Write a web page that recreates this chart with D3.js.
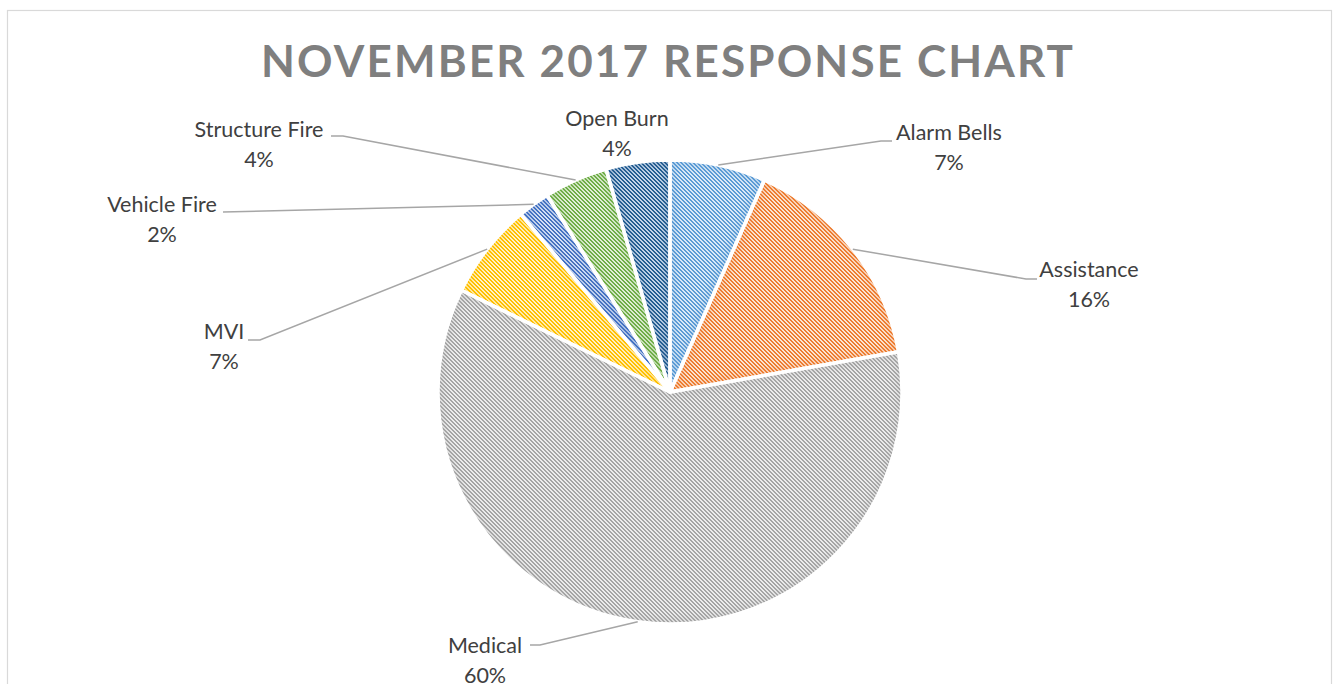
<!DOCTYPE html>
<html><head><meta charset="utf-8">
<script src="https://cdn.jsdelivr.net/npm/d3@7"></script>
<style>html,body{margin:0;padding:0;background:#fff;overflow:hidden}</style>
</head><body>
<svg id="c" width="1339" height="684"></svg>
<script>
const title = "NOVEMBER 2017 RESPONSE CHART";
const categories = ["Alarm Bells","Assistance","Medical","MVI","Vehicle Fire","Structure Fire","Open Burn"];
const counts = [3,7,27,3,1,2,2];
const colors = ["#5B9BD5","#ED7D31","#A5A5A5","#FFC000","#4472C4","#70AD47","#255E91"];
const tints  = ["#DDEBF7","#FBE5D6","#EDEDED","#FFF2CC","#DAE3F3","#E2F0D9","#C5D6EA"];
// label anchor (text centre x, first baseline y) and leader elbow
const labelPos = [
  {x:949,y:140, elbow:[[881,141],[892,141]]},
  {x:1089,y:277, elbow:[[1026,279],[1037,279]]},
  {x:485,y:653, elbow:[[540,645],[530,645]]},
  {x:224,y:339, elbow:[[260,340],[248,340]]},
  {x:162,y:212, elbow:[[223,212]]},
  {x:259,y:137, elbow:[[343,136],[331,136]]},
  {x:617,y:126, elbow:null}
];

const svg = d3.select("#c");
svg.append("rect").attr("x",7.5).attr("y",10.5).attr("width",1324).attr("height",700)
  .attr("fill","#fff").attr("stroke","#D9D9D9").attr("stroke-width",1.2);

svg.append("text").attr("x",667).attr("y",77).attr("text-anchor","middle")
  .attr("font-family","Lato, 'Open Sans', sans-serif").attr("font-weight","bold")
  .attr("font-size",44).attr("fill","#7F7F7F")
  .attr("textLength",812).attr("lengthAdjust","spacing").text(title);

const defs = svg.append("defs");
colors.forEach((c,i)=>{
  const p = defs.append("pattern").attr("id","pat"+i).attr("patternUnits","userSpaceOnUse")
    .attr("width",4).attr("height",4);
  p.append("rect").attr("width",4).attr("height",4).attr("fill",tints[i]);
  [[0,0,2],[1,1,2],[2,2,2],[3,3,1],[0,3,1]].forEach(r=>{
    p.append("rect").attr("x",r[0]).attr("y",r[1]).attr("width",r[2]).attr("height",1)
      .attr("fill",c).attr("shape-rendering","crispEdges");
  });
});
const f = defs.append("filter").attr("id","blur").attr("x","-20%").attr("y","-20%").attr("width","140%").attr("height","140%");
f.append("feGaussianBlur").attr("stdDeviation",4);

const cx=670, cy=392, R=232;
const pie = d3.pie().sort(null).value(d=>d);
const arcs = pie(counts);
const arc = d3.arc().innerRadius(0).outerRadius(R);
const g = svg.append("g").attr("transform",`translate(${cx},${cy})`);

arcs.forEach((a,i)=>{
  const cp = defs.append("clipPath").attr("id","clip"+i);
  cp.append("path").attr("d",arc(a));
});
g.selectAll("path.slice").data(arcs).join("path").attr("class","slice")
  .attr("d",arc).attr("fill",(d,i)=>`url(#pat${i})`);
g.selectAll("path.glow").data(arcs).join("path").attr("class","glow")
  .attr("d",arc).attr("fill","none").attr("stroke",(d,i)=>colors[i])
  .attr("stroke-opacity",0.35).attr("stroke-width",10)
  .attr("clip-path",(d,i)=>`url(#clip${i})`).attr("filter","url(#blur)");
g.selectAll("path.edge").data(arcs).join("path").attr("class","edge")
  .attr("d",arc).attr("fill","none").attr("stroke","#fff").attr("stroke-width",3.5)
  .attr("stroke-linejoin","round");

const total = d3.sum(counts);
const line = d3.line();
arcs.forEach((a,i)=>{
  const L = labelPos[i];
  const mid = (a.startAngle+a.endAngle)/2;
  const px = cx + R*Math.sin(mid), py = cy - R*Math.cos(mid);
  if (L.elbow){
    const pts = [[px,py], ...L.elbow];
    svg.append("path").attr("d",line(pts)).attr("fill","none")
      .attr("stroke","#A6A6A6").attr("stroke-width",1.5);
  }
  const t = svg.append("text").attr("text-anchor","middle")
    .attr("font-family","Lato, 'Open Sans', sans-serif").attr("font-size",21.5).attr("fill","#404040");
  t.append("tspan").attr("x",L.x).attr("y",L.y).text(categories[i]);
  t.append("tspan").attr("x",L.x).attr("y",L.y+29.5).text(Math.round(counts[i]/total*100)+"%");
});
</script>
</body></html>
